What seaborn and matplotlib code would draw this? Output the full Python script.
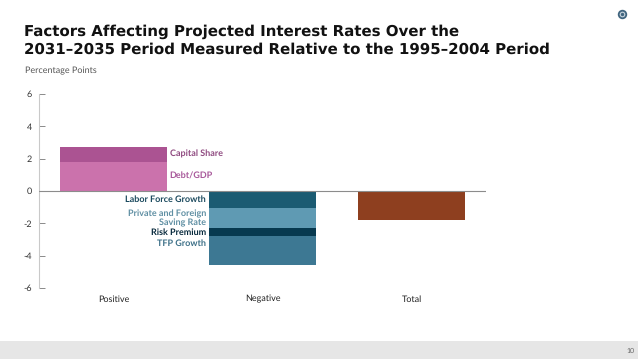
import matplotlib
matplotlib.use("Agg")
import matplotlib.pyplot as plt
from matplotlib.patches import Rectangle
import seaborn as sns

categories = ["Positive", "Negative", "Total"]
positive_names = ["Debt/GDP", "Capital Share"]
positive_values = [1.82, 0.91]
negative_names = ["Labor Force Growth", "Private and Foreign\nSaving Rate", "Risk Premium", "TFP Growth"]
negative_values = [-1.05, -1.25, -0.5, -1.8]
total_value = [-1.8]
y_ticks = [6, 4, 2, 0, -2, -4, -6]

positive_colors = ["#cb72ac", "#ab5392"]
positive_text = ["#a8589a", "#8f4a80"]
negative_colors = ["#1b5b72", "#5f9ab3", "#07394f", "#3d7893"]
negative_text = ["#1b4a5e", "#5f8fa3", "#07293c", "#3d7088"]
total_color = "#8e3f1f"

sns.set_theme(style="white")
plt.rcParams["font.family"] = ["Lato", "DejaVu Sans"]
plt.rcParams["text.hinting"] = "no_hinting"
plt.rcParams["text.hinting_factor"] = 1

W, H = 638, 359
fig = plt.figure(figsize=(W / 100, H / 100), dpi=100)
ax = fig.add_axes([39 / W, 1 - 288 / H, (486 - 39) / W, (288 - 94) / H])
bar_w = 107 / 149

bottom = 0
for name, val, col, tc in zip(positive_names, positive_values, positive_colors, positive_text):
    sns.barplot(x=[categories[0]], y=[val], order=categories, bottom=bottom,
                color=col, saturation=1, width=bar_w, ax=ax, linewidth=0)
    ax.annotate(name, (0 + bar_w / 2, bottom + val / 2), xytext=(2, 0), textcoords="offset points",
                ha="left", va="center", fontsize=6.2, color=tc, fontweight="bold")
    bottom += val

bottom = 0
label_nudge = [0, 0, 0, 5.5]
for name, val, col, tc, nudge in zip(negative_names, negative_values, negative_colors, negative_text, label_nudge):
    sns.barplot(x=[categories[1]], y=[val], order=categories, bottom=bottom,
                color=col, saturation=1, width=bar_w, ax=ax, linewidth=0)
    ax.annotate(name, (1 - bar_w / 2, bottom + val / 2), xytext=(-2, nudge), textcoords="offset points",
                ha="right", va="center", fontsize=6.2, color=tc, fontweight="bold",
                linespacing=1.15, multialignment="right")
    bottom += val

sns.barplot(x=[categories[2]], y=total_value, order=categories, color=total_color,
            saturation=1, width=bar_w, ax=ax, linewidth=0)

ax.set_xlim(-0.5, 2.5)
ax.set_ylim(-6, 6)
ax.set_xlabel("")
ax.set_ylabel("")
ax.set_yticks(y_ticks)
ax.set_yticklabels([str(t) for t in y_ticks])
ax.patch.set_alpha(0)
for s in ["top", "right", "bottom"]:
    ax.spines[s].set_visible(False)
ax.spines["left"].set_color("#c9c9c9")
ax.spines["left"].set_linewidth(0.8)
ax.axhline(0, color="#8c8c8c", lw=0.8, zorder=5)
ax.tick_params(axis="y", direction="in", length=4.5, width=0.6, color="#777777",
               labelsize=6.4, labelcolor="#333333", pad=5, left=True)
ax.tick_params(axis="x", length=0, labelsize=6.2, labelcolor="#222222", pad=5)

fig.text(24 / W, 1 - 31.5 / H, "Factors Affecting Projected Interest Rates Over the",
         fontsize=10.95, fontweight="bold", color="#111111", family=["DejaVu Sans"], va="center")
fig.text(24 / W, 1 - 49.5 / H, "2031\u20132035 Period Measured Relative to the 1995\u20132004 Period",
         fontsize=10.95, fontweight="bold", color="#111111", family=["DejaVu Sans"], va="center")
fig.text(25 / W, 1 - 70.5 / H, "Percentage Points", fontsize=6.2, color="#555555", va="center")

fig.add_artist(Rectangle((0, 0), 1, (359 - 341) / H, transform=fig.transFigure, color="#e6e6e6", lw=0))
fig.text(630 / W, 1 - 351 / H, "10", fontsize=4.8, color="#666666", ha="center", va="center")

# small round logo, top right
logo = fig.add_axes([612 / W, 1 - 24 / H, 20 / W, 20 / H])
logo.set_xlim(-1, 1)
logo.set_ylim(-1, 1)
logo.axis("off")
logo.scatter([0], [0], s=46, color="#40657f", linewidths=0)
logo.scatter([0], [0], s=17, color="#c7d3dc", linewidths=0)
logo.scatter([0], [0], s=6, color="#40657f", linewidths=0)

fig.savefig("out.png", dpi=100)
